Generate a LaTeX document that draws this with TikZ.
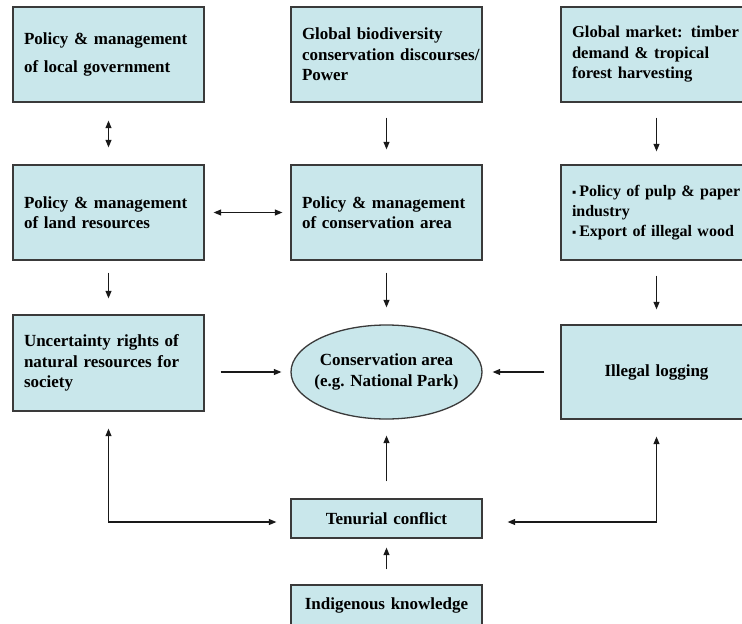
\documentclass[tikz,border=0pt]{standalone}
\usepackage{fontspec}
\setmainfont{Liberation Serif}
\usetikzlibrary{arrows.meta,shapes.geometric}
\definecolor{boxfill}{HTML}{C9E7EB}
\definecolor{boxline}{HTML}{3A3A3A}
\newcommand{\sqbullet}{{\fontsize{12}{12}\selectfont▪}\hspace{3pt}}
\begin{document}
\begin{tikzpicture}[x=1pt,y=-1pt,
  box/.style={draw=boxline, line width=1.3pt, fill=boxfill, rectangle,
    minimum width=191pt, minimum height=95pt, inner xsep=11pt, inner ysep=0pt,
    text width=169pt, align=left, font=\bfseries\fontsize{17}{20.5}\selectfont},
  cbox/.style={box, align=center},
  ellbox/.style={draw=boxline, line width=1.3pt, fill=boxfill, ellipse,
    minimum width=191pt, minimum height=94pt, inner xsep=-8pt, inner ysep=12pt, align=center,
    font=\bfseries\fontsize{17}{20.5}\selectfont},
  conn/.style={line width=1.1pt, draw=black!90, -{Triangle[length=7.5pt,width=6pt]}},
  dconn/.style={line width=1.1pt, draw=black!90, {Triangle[length=7.5pt,width=6pt]}-{Triangle[length=7.5pt,width=6pt]}}]
\useasboundingbox (0,0) rectangle (742,624);
\clip (0,0) rectangle (742,624);
% row 1
\node[box, font=\bfseries\fontsize{17}{28}\selectfont] (A) at (108.5,54.5) {Policy \& management\\of local government};
\node[box] (B) at (386.5,54.5) {Global biodiversity\\\mbox{conservation discourses/}\\Power};
\node[box, font=\bfseries\fontsize{16.6}{20.5}\selectfont] (C) at (656.5,54.5) {\mbox{Global market: timber}\\demand \& tropical\\forest harvesting};
% row 2
\node[box] (D) at (108.5,212.5) {Policy \& management\\of land resources};
\node[box] (E) at (386.5,212.5) {Policy \& management\\of conservation area};
\node[box, font=\bfseries\fontsize{16}{20}\selectfont] (F) at (656.5,212.5) {\mbox{\sqbullet Policy of pulp \& paper}\\industry\\\mbox{\sqbullet Export of illegal wood}};
% row 3
\node[box, minimum height=96pt] (G) at (108.5,363) {Uncertainty rights of\\natural resources for\\society};
\node[ellbox] (L) at (386.5,372) {Conservation area\\(e.g. National Park)};
\node[cbox, minimum height=94pt] (H) at (656.5,372) {Illegal logging};
% bottom
\node[cbox, minimum height=39pt] (T) at (386.5,518.5) {Tenurial conflict};
\node[cbox, minimum height=41pt] (I) at (386.5,605.5) {Indigenous knowledge};
% connectors
\draw[dconn, shorten <=18pt, shorten >=17pt] (A) -- (D);
\draw[conn, shorten <=15pt, shorten >=15pt] (B) -- (E);
\draw[conn, shorten <=15pt, shorten >=13pt] (C) -- (F);
\draw[dconn, shorten <=9pt, shorten >=8pt] (D) -- (E);
\draw[conn, shorten <=12pt, shorten >=16pt] (D) -- (G);
\draw[conn, shorten <=12pt, shorten >=17pt] (E) -- (L);
\draw[conn, shorten <=15pt, shorten >=15pt] (F) -- (H);
\draw[conn, shorten <=16pt, shorten >=9pt] (G.east |- L.west) -- (L.west);
\draw[conn, shorten <=16pt, shorten >=10pt] (H.west) -- (L.east);
\draw[conn, shorten <=17pt, shorten >=16pt] (T) -- (L);
\draw[conn, shorten <=15pt, shorten >=9pt] (I) -- (T);
\draw[dconn, shorten <=14pt, shorten >=17pt] ([yshift=-3.5pt]T.west) -| (G.south);
\draw[dconn, shorten <=25pt, shorten >=17pt] ([yshift=-3.5pt]T.east) -| (H.south);
\end{tikzpicture}
\end{document}
